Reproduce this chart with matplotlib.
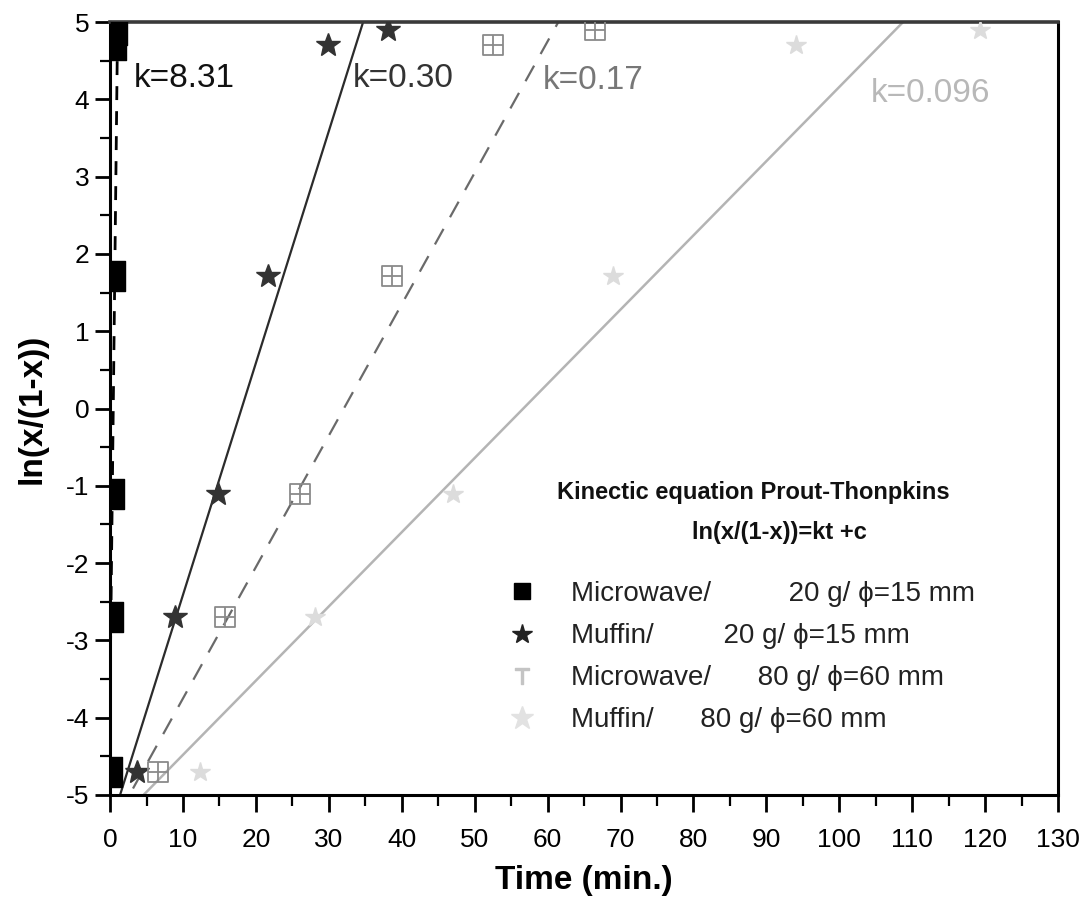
"""
Prout-Tompkins kinetic plot: ln(x/(1-x)) against time for four drying runs.
"""

import matplotlib
matplotlib.use("Agg")
import matplotlib.pyplot as plt
import numpy as np
from matplotlib.lines import Line2D
from matplotlib.path import Path
from matplotlib.ticker import MultipleLocator

plt.rcParams['font.family'] = ['Liberation Sans', 'DejaVu Sans']
plt.rcParams['axes.unicode_minus'] = False

# measured points (same ln(x/(1-x)) levels for every run)
y_levels = [-4.7, -2.7, -1.1, 1.72, 4.7, 4.9]
mw20_time = [0.5, 0.7, 0.8, 1.0, 1.1, 1.2]
muf20_time = [3.7, 8.9, 14.8, 21.7, 29.9, 38.1]
mw80_time = [6.6, 15.8, 26.0, 38.7, 52.5, 66.5]
muf80_time = [12.3, 28.1, 47.0, 69.0, 94.0, 119.3]

# fitted rate constants and intercepts
k_values = [8.31, 0.30, 0.17, 0.096]
c_values = [-3.6, -5.41, -5.45, -5.44]
k_labels = ['k=8.31', 'k=0.30', 'k=0.17', 'k=0.096']
k_label_pos = [(3.2, 4.27), (33.3, 4.27), (59.3, 4.24), (104.3, 4.07)]

series_labels = [
    'Microwave/          20 g/ \u03d5=15 mm',
    'Muffin/         20 g/ \u03d5=15 mm',
    'Microwave/      80 g/ \u03d5=60 mm',
    'Muffin/      80 g/ \u03d5=60 mm',
]
title_lines = ['Kinectic equation Prout-Thonpkins', 'ln(x/(1-x))=kt +c']

# square with a cross inside
box_plus = Path(
    [(-1, -1), (1, -1), (1, 1), (-1, 1), (-1, -1), (0, -1), (0, 1), (-1, 0), (1, 0)],
    [Path.MOVETO, Path.LINETO, Path.LINETO, Path.LINETO, Path.CLOSEPOLY,
     Path.MOVETO, Path.LINETO, Path.MOVETO, Path.LINETO])
tall_rect = Path(
    [(-0.55, -1), (0.55, -1), (0.55, 1), (-0.55, 1), (-0.55, -1)],
    [Path.MOVETO, Path.LINETO, Path.LINETO, Path.LINETO, Path.CLOSEPOLY])

fig = plt.figure(figsize=(10.9, 8.99), dpi=100)
ax = fig.add_axes([0.101, 0.1157, 0.8697, 0.8598])

line_colors = ['#000000', '#2b2b2b', '#6a6a6a', '#b4b4b4']
line_styles = [(0, (5, 4)), '-', (0, (8, 6)), '-']
line_widths = [2.0, 1.6, 1.6, 1.8]
label_colors = ['#111111', '#333333', '#777777', '#b8b8b8']

t = np.linspace(-1, 131, 400)
for k, c, col, ls, lw in zip(k_values, c_values, line_colors, line_styles, line_widths):
    ax.plot(t, k * t + c, color=col, linestyle=ls, linewidth=lw, zorder=2)

ax.plot(mw20_time, y_levels, linestyle='none', marker=tall_rect, markersize=22,
        color='#000000', zorder=3)
ax.plot(muf20_time, y_levels, linestyle='none', marker='*', markersize=18,
        color='#333333', zorder=3)
ax.plot(mw80_time, y_levels, linestyle='none', marker=box_plus, markersize=14,
        markerfacecolor='none', markeredgecolor='#8a8a8a', markeredgewidth=1.3, zorder=3)
ax.plot(muf80_time, y_levels, linestyle='none', marker='*', markersize=15,
        color='#dcdcdc', zorder=3)

for txt, (tx, ty), col in zip(k_labels, k_label_pos, label_colors):
    ax.text(tx, ty, txt, color=col, fontsize=24, ha='left', va='center')

ax.set_xlim(0, 130)
ax.set_ylim(-5, 5)
ax.xaxis.set_major_locator(MultipleLocator(10))
ax.xaxis.set_minor_locator(MultipleLocator(5))
ax.yaxis.set_major_locator(MultipleLocator(1))
ax.yaxis.set_minor_locator(MultipleLocator(0.5))
ax.tick_params(which='major', direction='out', width=2, labelsize=19)
ax.tick_params(which='minor', direction='out', width=1.6)
ax.tick_params(axis='x', which='major', length=12, pad=12)
ax.tick_params(axis='x', which='minor', length=8)
ax.tick_params(axis='y', which='major', length=11, pad=4)
ax.tick_params(axis='y', which='minor', length=7)

for side in ['left', 'bottom', 'right']:
    ax.spines[side].set_linewidth(2.2)
    ax.spines[side].set_color('#000000')
ax.spines['top'].set_linewidth(2.6)
ax.spines['top'].set_color('#3a3a3a')

ax.set_xlabel('Time (min.)', fontsize=24, fontweight='bold', labelpad=9)
ax.set_ylabel('ln(x/(1-x))', fontsize=24, fontweight='bold', labelpad=13)

# legend title written as two lines of text
ax.text(0.679, 0.3907, title_lines[0], transform=ax.transAxes, fontsize=17,
        fontweight='bold', ha='center', va='center', color='#111111')
ax.text(0.706, 0.3402, title_lines[1], transform=ax.transAxes, fontsize=17,
        fontweight='bold', ha='center', va='center', color='#111111')

handles = [
    Line2D([], [], linestyle='none', marker='s', markersize=11, color='#000000'),
    Line2D([], [], linestyle='none', marker='*', markersize=15, color='#222222'),
    Line2D([], [], linestyle='none', marker='$\\mathrm{T}$', markersize=12, color='#c4c4c4'),
    Line2D([], [], linestyle='none', marker='*', markersize=17, color='#e2e2e2'),
]
leg = ax.legend(handles, series_labels, loc='upper left', bbox_to_anchor=(0.41, 0.291),
                borderaxespad=0, frameon=False, fontsize=20, handlelength=0.9,
                handletextpad=1.3, labelspacing=0.58)
for txt in leg.get_texts():
    txt.set_color('#222222')

fig.savefig('out.png', dpi=100)
